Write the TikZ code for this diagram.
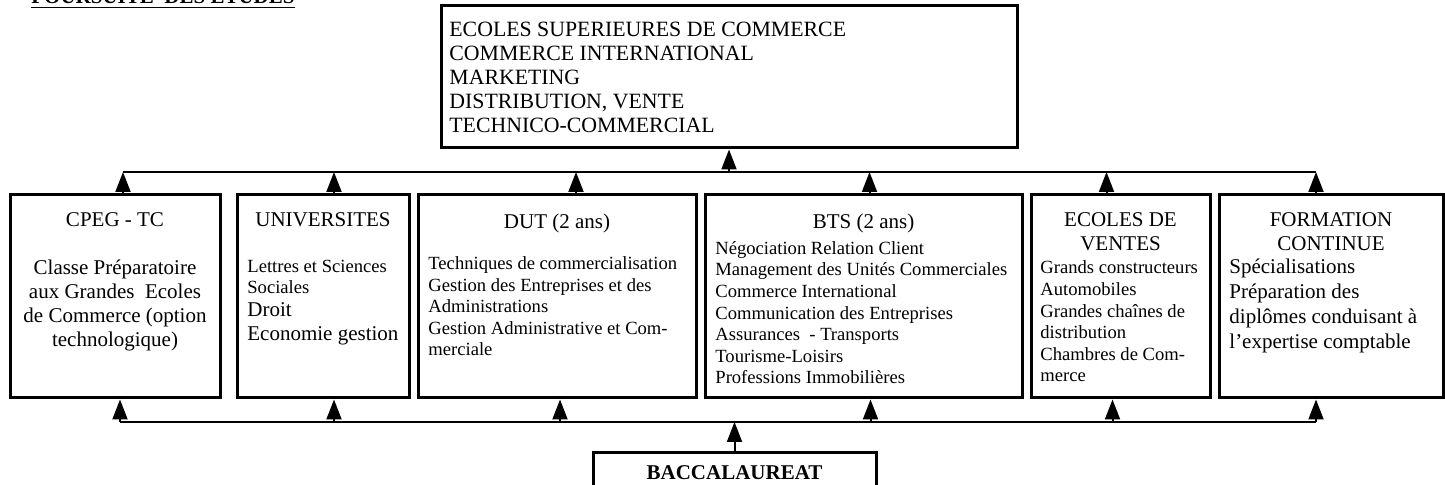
\documentclass[tikz,border=0pt]{standalone}
\usepackage{fontspec}
\setmainfont{Liberation Serif}
\usetikzlibrary{arrows.meta, positioning}

\begin{document}
\begin{tikzpicture}[
            x=0.5pt, y=-0.5pt,
            node distance=3pt,
            box/.style={
                rectangle,
                draw,
                line width=1.5pt,
                inner sep=0pt,
                minimum height=101.5pt
            },
            head/.style={font=\fontsize{10.5}{12}\selectfont, inner sep=0pt, anchor=base, align=center},
            body/.style={font=\fontsize{9.3}{10.8}\selectfont, inner sep=0pt, anchor=base west, align=left},
            bigbody/.style={font=\fontsize{10.5}{12}\selectfont, inner sep=0pt, anchor=base west, align=left},
            up/.style={line width=1pt, -{Triangle[width=7.5pt, length=10pt]}},
            bus/.style={line width=1pt}
        ]

            \useasboundingbox (0,0) rectangle (1445,485);

            % Title
            \node[head, anchor=base west, font=\fontsize{10.5}{12}\selectfont\bfseries] (titre) at (31,4) {\underline{POURSUITE\ \ DES ETUDES}};

            % Nodes
            \node[box, minimum width=288pt, minimum height=71pt] (ecoles) at (729,77) {};
            \node[box, minimum width=105pt] (cpeg) at (115,296.5) {};
            \node[box, minimum width=86pt, right=7pt of cpeg] (univ) {};
            \node[box, minimum width=139pt, right=of univ] (dut) {};
            \node[box, minimum width=158.5pt, right=of dut] (bts) {};
            \node[box, minimum width=89.5pt, right=of bts] (vente) {};
            \node[box, minimum width=112pt, right=of vente] (formation) {};
            \node[box, minimum width=141.5pt, minimum height=21pt] (bac) at (734.5,474) {};

            % Texts (base = baseline of the last line)
            \node[bigbody, font=\fontsize{10.9}{12}\selectfont] (ecoles-txt) at (449,133) {ECOLES SUPERIEURES DE COMMERCE\\COMMERCE INTERNATIONAL\\MARKETING\\DISTRIBUTION, VENTE\\TECHNICO-COMMERCIAL};

            \node[head] (cpeg-t) at (115,227) {CPEG - TC};
            \node[head] (cpeg-b) at (115,347) {Classe Préparatoire\\aux Grandes\ \ Ecoles\\de Commerce (option\\technologique)};

            \node[head] (univ-t) at (323,227) {UNIVERSITES};
            \node[body] (univ-b) at (247,294) {Lettres et Sciences\\Sociales};
            \node[bigbody] (univ-c) at (247,341) {Droit\\Economie gestion};

            \node[head] (dut-t) at (557,229) {DUT (2 ans)};
            \node[body] (dut-b) at (428,356) {Techniques de commercialisation\\Gestion des Entreprises et des\\Administrations\\Gestion Administrative et Com-\\merciale};

            \node[head] (bts-t) at (863.5,229) {BTS (2 ans)};
            \node[body] (bts-b) at (715,384) {Négociation Relation Client\\Management des Unités Commerciales\\Commerce International\\Communication des Entreprises\\Assurances\ \ - Transports\\Tourisme-Loisirs\\Professions Immobilières};

            \node[head] (vente-t) at (1120.5,251) {ECOLES DE\\VENTES};
            \node[body] (vente-b) at (1040,382) {Grands constructeurs\\Automobiles\\Grandes chaînes de\\distribution\\Chambres de Com-\\merce};

            \node[head] (formation-t) at (1331,251) {FORMATION\\CONTINUE};
            \node[bigbody, font=\fontsize{10.5}{12.5}\selectfont] (formation-b) at (1229,349) {Spécialisations\\Préparation des\\diplômes conduisant à\\l’expertise comptable};

            \node[head, font=\fontsize{10.5}{12}\selectfont\bfseries] (bac-t) at (734.5,480) {BACCALAUREAT};

            % Arrows
            \coordinate (highbus) at (0,172);
            \coordinate (lowbus) at (0,422);

            \draw[bus] ([xshift=4pt]cpeg.north |- highbus) -- ([xshift=-7.5pt]formation.north |- highbus);
            \foreach \n/\s in {cpeg/4pt, univ/5.5pt, dut/9.5pt, bts/3pt, vente/-7pt, formation/-7.5pt}
                \draw[up] ([xshift=\s]\n.north) -- ([xshift=\s]\n.north |- highbus);
            \draw[up] (ecoles.south |- highbus) -- (ecoles.south);

            \draw[bus] ([xshift=2.5pt]cpeg.south |- lowbus) -- ([xshift=-7.5pt]formation.south |- lowbus);
            \foreach \n/\s in {cpeg/2.5pt, univ/5.5pt, dut/1.5pt, bts/3.5pt, vente/-4pt, formation/-7.5pt}
                \draw[up] ([xshift=\s]\n.south |- lowbus) -- ([xshift=\s]\n.south);
            \draw[up] (bac.north) -- (bac.north |- lowbus);
        \end{tikzpicture}
\end{document}
